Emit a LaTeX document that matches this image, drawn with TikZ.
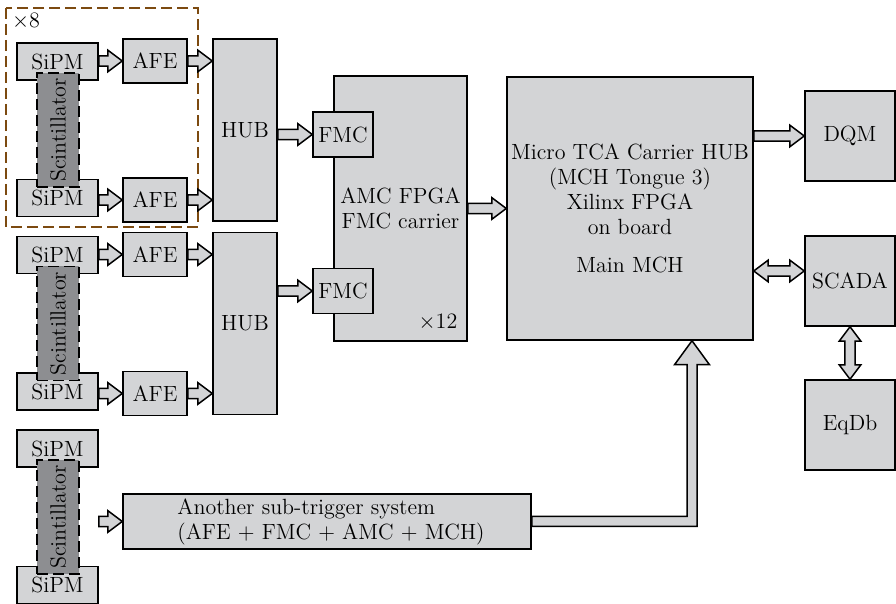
\documentclass[tikz,border=0pt]{standalone}
\usetikzlibrary{calc}
\definecolor{boxgray}{RGB}{211,212,214}
\definecolor{scintgray}{RGB}{141,142,145}
\definecolor{framebrown}{RGB}{124,74,16}
\newcommand\ArSw{2.6pt}
\newcommand\ArHw{5.4pt}
\newcommand\ArHl{7.2pt}
\newcommand\BgSw{2.5pt}
\newcommand\BgHw{8.75pt}
\newcommand\BgHl{12pt}
\tikzset{
  blk/.style={draw=black, fill=boxgray, line width=0.75pt, inner sep=0pt, align=center},
  scint/.style={draw=black, fill=scintgray, line width=0.9pt, dash pattern=on 5.5pt off 2.5pt, inner sep=0pt, minimum width=21pt, minimum height=57pt},
  sipm/.style={blk, minimum width=40.5pt, minimum height=18.5pt},
  afe/.style={blk, minimum width=32pt, minimum height=22pt},
  hubbox/.style={blk, minimum width=32pt, minimum height=91pt},
  fmcbox/.style={blk, minimum width=30pt, minimum height=22.5pt},
  sqbox/.style={blk, minimum width=45pt, minimum height=45pt},
  farrow/.style={draw=black, fill=boxgray, line width=0.75pt},
  lbl/.style={inner sep=0pt}
}
% right-pointing fat arrow
\newcommand\farrR[2]{\filldraw[farrow] let \p1=(#1), \p2=(#2) in
 (\x1,{\y1+\ArSw}) -- ({\x2-\ArHl},{\y1+\ArSw}) -- ({\x2-\ArHl},{\y1+\ArHw}) -- (\x2,\y1)
 -- ({\x2-\ArHl},{\y1-\ArHw}) -- ({\x2-\ArHl},{\y1-\ArSw}) -- (\x1,{\y1-\ArSw}) -- cycle;}
% horizontal double fat arrow
\newcommand\farrLR[2]{\filldraw[farrow] let \p1=(#1), \p2=(#2) in
 (\x1,\y1) -- ({\x1+\ArHl},{\y1+\ArHw}) -- ({\x1+\ArHl},{\y1+\ArSw}) -- ({\x2-\ArHl},{\y1+\ArSw})
 -- ({\x2-\ArHl},{\y1+\ArHw}) -- (\x2,\y1) -- ({\x2-\ArHl},{\y1-\ArHw}) -- ({\x2-\ArHl},{\y1-\ArSw})
 -- ({\x1+\ArHl},{\y1-\ArSw}) -- ({\x1+\ArHl},{\y1-\ArHw}) -- cycle;}
% vertical double fat arrow (#1 top, #2 bottom)
\newcommand\farrUD[2]{\filldraw[farrow] let \p1=(#1), \p2=(#2) in
 (\x1,\y1) -- ({\x1+\ArHw},{\y1-\ArHl}) -- ({\x1+\ArSw},{\y1-\ArHl}) -- ({\x1+\ArSw},{\y2+\ArHl})
 -- ({\x1+\ArHw},{\y2+\ArHl}) -- (\x1,\y2) -- ({\x1-\ArHw},{\y2+\ArHl}) -- ({\x1-\ArSw},{\y2+\ArHl})
 -- ({\x1-\ArSw},{\y1-\ArHl}) -- ({\x1-\ArHw},{\y1-\ArHl}) -- cycle;}
% bent big arrow: right then up
\newcommand\farrBent[2]{\filldraw[farrow] let \p1=(#1), \p2=(#2) in
 (\x1,{\y1+\BgSw}) -- ({\x2-\BgSw},{\y1+\BgSw}) -- ({\x2-\BgSw},{\y2-\BgHl}) -- ({\x2-\BgHw},{\y2-\BgHl})
 -- (\x2,\y2) -- ({\x2+\BgHw},{\y2-\BgHl}) -- ({\x2+\BgSw},{\y2-\BgHl}) -- ({\x2+\BgSw},{\y1-\BgSw})
 -- (\x1,{\y1-\BgSw}) -- cycle;}
\begin{document}
\begin{tikzpicture}[x=0.5pt,y=-0.5pt,font=\fontsize{11pt}{12.5pt}\selectfont]
\useasboundingbox (0,0) rectangle (896,604);

% frame of group 1
\draw[framebrown, line width=0.9pt, dash pattern=on 5.5pt off 2.5pt] (6,8) rectangle (198,227);
\node[lbl] (x8) at (26,21) {$\times$8};

% group 1
\node[sipm] (S1a) at (57.5,61.5) {SiPM};
\node[sipm] (S1b) at (57.5,198) {SiPM};
\node[scint] (C1) at (58,130) {\rotatebox{90}{Scintillator}};
\node[afe] (A1a) at (155,61) {AFE};
\node[afe] (A1b) at (155,200) {AFE};
\node[hubbox] (H1) at (245,130) {HUB};

% group 2
\node[sipm] (S2a) at (57.5,255) {SiPM};
\node[sipm] (S2b) at (57.5,391.5) {SiPM};
\node[scint] (C2) at (58,323.5) {\rotatebox{90}{Scintillator}};
\node[afe] (A2a) at (155,254.5) {AFE};
\node[afe] (A2b) at (155,393.5) {AFE};
\node[hubbox] (H2) at (245,323.5) {HUB};

% group 3
\node[sipm] (S3a) at (57.5,448.5) {SiPM};
\node[sipm] (S3b) at (57.5,585) {SiPM};
\node[scint] (C3) at (58,517) {\rotatebox{90}{Scintillator}};
\node[blk, minimum width=204pt, minimum height=27.5pt, align=left] (AN) at (327,521.5)
  {\hspace*{4pt}Another sub-trigger system\\\hspace*{4pt}(AFE + FMC + AMC + MCH)};

% AMC
\node[blk, minimum width=66.5pt, minimum height=132.5pt] (AMC) at (400.5,208.5) {AMC FPGA\\FMC carrier};
\node[lbl] (x12) at (438,322) {$\times$12};
\node[fmcbox] (F1) at (343,134.5) {FMC};
\node[fmcbox] (F2) at (343,291) {FMC};

% MCH
\node[blk, minimum width=123pt, minimum height=131.5pt] (MCH) at (630,208.5)
  {Micro TCA Carrier HUB\\(MCH Tongue 3)\\Xilinx FPGA\\on board\\[6.5pt]Main MCH};

\node[sqbox] (DQM) at (850,136) {DQM};
\node[sqbox] (SC) at (850,281) {SCADA};
\node[sqbox] (EQ) at (850,425) {EqDb};

\coordinate (scin) at ($(SC.west)+(0,-10)$);
\coordinate (mchin) at ($(MCH.south)+(62,0)$);

% arrows
\farrR{S1a.east |- A1a}{A1a.west}
\farrR{S1b.east |- A1b}{A1b.west}
\farrR{A1a.east}{A1a.east -| H1.west}
\farrR{A1b.east}{A1b.east -| H1.west}
\farrR{S2a.east |- A2a}{A2a.west}
\farrR{S2b.east |- A2b}{A2b.west}
\farrR{A2a.east}{A2a.east -| H2.west}
\farrR{A2b.east}{A2b.east -| H2.west}
\farrR{H1.east |- F1}{F1.west}
\farrR{H2.east |- F2}{F2.west}
\farrR{AMC.east}{AMC.east -| MCH.west}
\farrR{MCH.east |- DQM}{DQM.west}
\farrLR{MCH.east |- scin}{scin}
\farrUD{SC.south}{EQ.north}
\farrR{S3a.east |- AN}{AN.west}
\farrBent{AN.east}{mchin}
\end{tikzpicture}
\end{document}
